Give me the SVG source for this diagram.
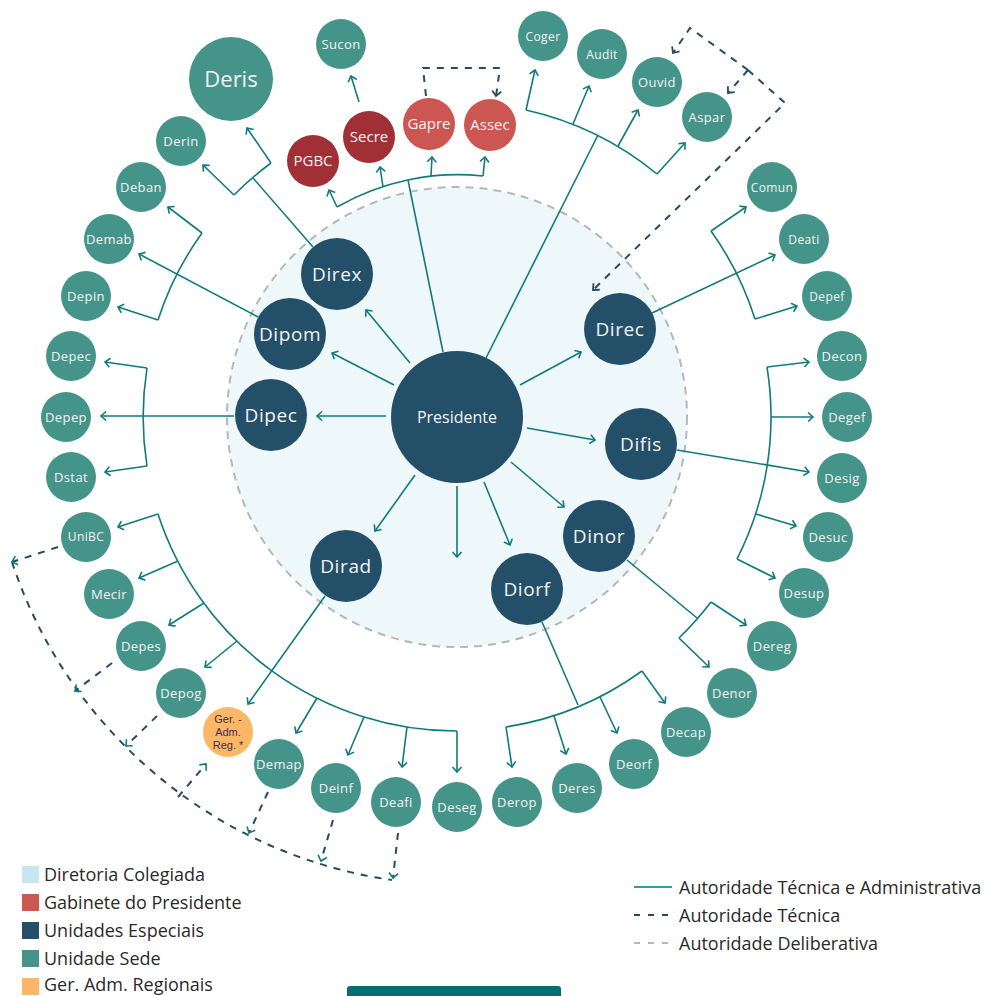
<svg xmlns="http://www.w3.org/2000/svg" width="987" height="996" viewBox="0 0 987 996">
<style>
.c{fill:none;stroke:#117a80;stroke-width:1.6}
.a{marker-end:url(#ah)}
.d{fill:none;stroke:#244c5e;stroke-width:2;stroke-dasharray:7 7}
.sede{fill:#459489}
.esp{fill:#234f69}
.gab{fill:#cc5651}
.gab2{fill:#a13036}
.reg{fill:#fbb765}
text{font-family:"Open Sans","Liberation Sans",sans-serif;text-anchor:middle;fill:#f4f4f4}
.s{font-size:13px;letter-spacing:0.4px}
.m{font-size:15px}
.l{font-size:19px;letter-spacing:0.6px}
.g{font-family:"Liberation Sans",Arial,sans-serif;font-size:11px;fill:#3b2d4f}
.lg{font-family:"Open Sans","Liberation Sans",sans-serif;font-size:18px;fill:#2a2a2a;text-anchor:start}
</style>
<defs>
<marker id="ah" viewBox="-7 -6 9 12" markerWidth="9" markerHeight="12" refX="0" refY="0" orient="auto" markerUnits="userSpaceOnUse"><path d="M-5,-4.5 L0,0 L-5,4.5" fill="none" stroke="#117a80" stroke-width="1.6"/></marker>
<marker id="ahd" viewBox="-7 -6 9 12" markerWidth="9" markerHeight="12" refX="0" refY="0" orient="auto" markerUnits="userSpaceOnUse"><path d="M-5,-4.5 L0,0 L-5,4.5" fill="none" stroke="#244c5e" stroke-width="1.8"/></marker>
</defs>
<rect width="987" height="996" fill="#ffffff"/>

<g id="diretoria-colegiada">
<circle cx="457" cy="417" r="230" fill="#eef7f9" stroke="#b4b8bb" stroke-width="2" stroke-dasharray="8 6"/>
</g>

<g id="connectors">
<!-- Presidente spokes -->
<path class="c a" d="M410,363 L366,310"/>
<path class="c a" d="M394,385 L332,353"/>
<path class="c a" d="M386,416 L317,416"/>
<path class="c a" d="M520,385 L581,352"/>
<path class="c a" d="M527,428 L595,440"/>
<path class="c a" d="M511,462 L564,507"/>
<path class="c a" d="M484,482 L510,545"/>
<path class="c a" d="M457,486 L457,557"/>
<path class="c a" d="M415,475 L375,531"/>
<path class="c" d="M443,352 L408,180"/>
<path class="c" d="M486,358 L598,135"/>
<!-- Gabinete arc -->
<path class="c" d="M337,207 A242,242 0 0,1 483,176"/>
<path class="c a" d="M337,207 L329,190"/>
<path class="c a" d="M383,187 L380,167"/>
<path class="c a" d="M431,176 L432,157"/>
<path class="c a" d="M483,176 L485,157"/>
<path class="c a" d="M359,102 L351,76"/>
<!-- Direx -->
<path class="c" d="M313,247 L253,178"/>
<path class="c" d="M234,195 A314,314 0 0,1 271,163"/>
<path class="c a" d="M234,195 L203,165"/>
<path class="c a" d="M271,163 L247,128"/>
<!-- Dipom -->
<path class="c a" d="M258,317 L139,254"/>
<path class="c" d="M202,233 A314,314 0 0,0 158,320"/>
<path class="c a" d="M202,233 L168,207"/>
<path class="c a" d="M158,320 L118,307"/>
<!-- Dipec -->
<path class="c a" d="M234,416 L101,416"/>
<path class="c" d="M147,368 A314,314 0 0,0 147,466"/>
<path class="c a" d="M147,368 L105,362"/>
<path class="c a" d="M147,466 L105,472"/>
<!-- Presidente top-right -->
<path class="c" d="M526,110 A315,315 0 0,1 657,174"/>
<path class="c a" d="M526,110 L535,70"/>
<path class="c a" d="M573,124 L589,86"/>
<path class="c a" d="M618,146 L638,110"/>
<path class="c a" d="M657,174 L685,143"/>
<!-- Direc -->
<path class="c a" d="M652,313 L775,255"/>
<path class="c" d="M711,231 A314,314 0 0,1 755,319"/>
<path class="c a" d="M711,231 L746,207"/>
<path class="c a" d="M755,319 L797,306"/>
<!-- Difis -->
<path class="c a" d="M677,450 L809,472"/>
<path class="c" d="M767,367 A314,314 0 0,1 737,559"/>
<path class="c a" d="M767,367 L809,362"/>
<path class="c a" d="M771,417 L813,417"/>
<path class="c a" d="M756,514 L796,526"/>
<path class="c a" d="M737,559 L775,578"/>
<!-- Dinor -->
<path class="c" d="M627,560 L697,618"/>
<path class="c" d="M711,602 A314,314 0 0,1 679,638"/>
<path class="c a" d="M711,602 L746,625"/>
<path class="c a" d="M679,638 L709,667"/>
<!-- Diorf -->
<path class="c" d="M542,622 L578,705"/>
<path class="c" d="M642,671 A314,314 0 0,1 506,727"/>
<path class="c a" d="M642,671 L665,703"/>
<path class="c a" d="M600,697 L617,733"/>
<path class="c a" d="M554,716 L566,754"/>
<path class="c a" d="M506,727 L512,767"/>
<!-- Bottom-left arc -->
<path class="c" d="M457,731 A314,314 0 0,1 158,514"/>
<path class="c a" d="M158,514 L118,527"/>
<path class="c a" d="M178,561 L139,578"/>
<path class="c a" d="M204,603 L169,625"/>
<path class="c a" d="M237,641 L205,667"/>
<path class="c a" d="M317,698 L296,733"/>
<path class="c a" d="M364,717 L348,755"/>
<path class="c a" d="M407,727 L402,767"/>
<path class="c a" d="M457,731 L457,772"/>
<!-- Dirad -->
<path class="c a" d="M325,596 L248,704"/>
<!-- Dashed technical authority -->
<path class="d" d="M748,70 L785,103 L593,290" marker-end="url(#ahd)"/>
<path class="d" d="M748,70 L690,28 L673,53" marker-end="url(#ahd)"/>
<path class="d" d="M748,70 L728,93" marker-end="url(#ahd)"/>
<path class="d" d="M426,96 L423,68 L500,68 L496,96" marker-end="url(#ahd)"/>
<path class="d" d="M12,562 A470,470 0 0,0 392,880"/>
<path class="d" d="M58,547 L12,562" marker-end="url(#ah)"/>
<path class="d" d="M112,663 L75,691" marker-end="url(#ah)"/>
<path class="d" d="M157,716 L126,746" marker-end="url(#ah)"/>
<path class="d" d="M178,797 L206,764" marker-end="url(#ah)"/>
<path class="d" d="M268,792 L249,833" marker-end="url(#ah)"/>
<path class="d" d="M333,820 L321,861" marker-end="url(#ah)"/>
<path class="d" d="M398,833 L393,878" marker-end="url(#ah)"/>
</g>

<!-- Central nodes -->
<g id="presidente"><circle class="esp" cx="457" cy="417" r="66"/><text x="457" y="423" style="font-size:16px">Presidente</text></g>
<g id="direx"><circle class="esp" cx="337" cy="274" r="36"/><text class="l" x="337" y="281">Direx</text></g>
<g id="dipom"><circle class="esp" cx="290" cy="334" r="36"/><text class="l" x="290" y="341">Dipom</text></g>
<g id="dipec"><circle class="esp" cx="271" cy="415" r="36"/><text class="l" x="271" y="422">Dipec</text></g>
<g id="direc"><circle class="esp" cx="620" cy="329" r="36"/><text class="l" x="620" y="336">Direc</text></g>
<g id="difis"><circle class="esp" cx="641" cy="444" r="36"/><text class="l" x="641" y="451">Difis</text></g>
<g id="dinor"><circle class="esp" cx="599" cy="536" r="36"/><text class="l" x="599" y="543">Dinor</text></g>
<g id="diorf"><circle class="esp" cx="527" cy="589" r="36"/><text class="l" x="527" y="596">Diorf</text></g>
<g id="dirad"><circle class="esp" cx="346" cy="566" r="36"/><text class="l" x="346" y="573">Dirad</text></g>

<!-- Gabinete -->
<g id="pgbc"><circle class="gab2" cx="313" cy="161" r="26"/><text class="m" x="313" y="166">PGBC</text></g>
<g id="secre"><circle class="gab2" cx="369" cy="137" r="26"/><text class="m" x="369" y="142">Secre</text></g>
<g id="gapre"><circle class="gab" cx="429" cy="124" r="26"/><text class="m" x="429" y="129">Gapre</text></g>
<g id="assec"><circle class="gab" cx="490" cy="125" r="26"/><text class="m" x="490" y="130">Assec</text></g>

<!-- Unidades sede -->
<g id="sucon"><circle class="sede" cx="341" cy="44" r="25"/><text class="s" x="341" y="49">Sucon</text></g>
<g id="deris"><circle class="sede" cx="231" cy="79" r="42"/><text x="231" y="87" style="font-size:22px">Deris</text></g>
<g id="derin"><circle class="sede" cx="181" cy="141" r="25"/><text class="s" x="181" y="146">Derin</text></g>
<g id="deban"><circle class="sede" cx="141" cy="187" r="25"/><text class="s" x="141" y="192">Deban</text></g>
<g id="demab"><circle class="sede" cx="109" cy="239" r="25"/><text class="s" x="109" y="244">Demab</text></g>
<g id="depin"><circle class="sede" cx="86" cy="296" r="25"/><text class="s" x="86" y="301">Depin</text></g>
<g id="depec"><circle class="sede" cx="71" cy="356" r="25"/><text class="s" x="71" y="361">Depec</text></g>
<g id="depep"><circle class="sede" cx="66" cy="417" r="25"/><text class="s" x="66" y="422">Depep</text></g>
<g id="dstat"><circle class="sede" cx="71" cy="477" r="25"/><text class="s" x="71" y="482">Dstat</text></g>
<g id="unibc"><circle class="sede" cx="86" cy="537" r="25"/><text class="s" x="86" y="541" style="font-size:12px">UniBC</text></g>
<g id="mecir"><circle class="sede" cx="109" cy="594" r="25"/><text class="s" x="109" y="599">Mecir</text></g>
<g id="depes"><circle class="sede" cx="141" cy="646" r="25"/><text class="s" x="141" y="651">Depes</text></g>
<g id="depog"><circle class="sede" cx="181" cy="693" r="25"/><text class="s" x="181" y="698">Depog</text></g>
<g id="ger-adm-reg"><circle class="reg" cx="228" cy="732" r="25"/>
<text class="g" x="228" y="723">Ger. -</text>
<text class="g" x="228" y="736">Adm.</text>
<text class="g" x="228" y="749">Reg. *</text></g>
<g id="demap"><circle class="sede" cx="279" cy="764" r="25"/><text class="s" x="279" y="769">Demap</text></g>
<g id="deinf"><circle class="sede" cx="336" cy="788" r="25"/><text class="s" x="336" y="793">Deinf</text></g>
<g id="deafi"><circle class="sede" cx="396" cy="802" r="25"/><text class="s" x="396" y="807">Deafi</text></g>
<g id="deseg"><circle class="sede" cx="457" cy="807" r="25"/><text class="s" x="457" y="812">Deseg</text></g>
<g id="derop"><circle class="sede" cx="517" cy="802" r="25"/><text class="s" x="517" y="807">Derop</text></g>
<g id="deres"><circle class="sede" cx="577" cy="788" r="25"/><text class="s" x="577" y="793">Deres</text></g>
<g id="deorf"><circle class="sede" cx="634" cy="764" r="25"/><text class="s" x="634" y="769">Deorf</text></g>
<g id="decap"><circle class="sede" cx="686" cy="732" r="25"/><text class="s" x="686" y="737">Decap</text></g>
<g id="denor"><circle class="sede" cx="732" cy="693" r="25"/><text class="s" x="732" y="698">Denor</text></g>
<g id="dereg"><circle class="sede" cx="772" cy="646" r="25"/><text class="s" x="772" y="651">Dereg</text></g>
<g id="desup"><circle class="sede" cx="804" cy="593" r="25"/><text class="s" x="804" y="598">Desup</text></g>
<g id="desuc"><circle class="sede" cx="828" cy="537" r="25"/><text class="s" x="828" y="542">Desuc</text></g>
<g id="desig"><circle class="sede" cx="842" cy="478" r="25"/><text class="s" x="842" y="483">Desig</text></g>
<g id="degef"><circle class="sede" cx="847" cy="417" r="25"/><text class="s" x="847" y="422">Degef</text></g>
<g id="decon"><circle class="sede" cx="842" cy="356" r="25"/><text class="s" x="842" y="361">Decon</text></g>
<g id="depef"><circle class="sede" cx="827" cy="296" r="25"/><text class="s" x="827" y="301" style="font-size:12px">Depef</text></g>
<g id="deati"><circle class="sede" cx="804" cy="239" r="25"/><text class="s" x="804" y="244" style="font-size:12px">Deati</text></g>
<g id="comun"><circle class="sede" cx="772" cy="187" r="25"/><text class="s" x="772" y="192" style="font-size:12px">Comun</text></g>
<g id="coger"><circle class="sede" cx="543" cy="36" r="25"/><text class="s" x="543" y="41" style="font-size:12px">Coger</text></g>
<g id="audit"><circle class="sede" cx="602" cy="54" r="25"/><text class="s" x="602" y="59" style="font-size:12px">Audit</text></g>
<g id="ouvid"><circle class="sede" cx="657" cy="82" r="25"/><text class="s" x="657" y="87">Ouvid</text></g>
<g id="aspar"><circle class="sede" cx="707" cy="117" r="25"/><text class="s" x="707" y="122">Aspar</text></g>

<!-- Legend -->
<g id="legend">
<rect x="22" y="866" width="17" height="17" fill="#c5e7ef"/><text class="lg" x="44" y="881">Diretoria Colegiada</text>
<rect x="22" y="894" width="17" height="17" fill="#cc5651"/><text class="lg" x="44" y="909">Gabinete do Presidente</text>
<rect x="22" y="922" width="17" height="17" fill="#234f69"/><text class="lg" x="44" y="937">Unidades Especiais</text>
<rect x="22" y="950" width="17" height="17" fill="#459489"/><text class="lg" x="44" y="965">Unidade Sede</text>
<rect x="22" y="978" width="17" height="17" fill="#fbb765"/><text class="lg" x="44" y="991">Ger. Adm. Regionais</text>
<line x1="634" y1="887" x2="672" y2="887" stroke="#3e9a96" stroke-width="2"/>
<text class="lg" x="679" y="894">Autoridade Técnica e Administrativa</text>
<line x1="634" y1="915" x2="672" y2="915" stroke="#244c5e" stroke-width="2" stroke-dasharray="6 8"/>
<text class="lg" x="679" y="922">Autoridade Técnica</text>
<line x1="634" y1="943" x2="672" y2="943" stroke="#b4b8bb" stroke-width="2" stroke-dasharray="6 8"/>
<text class="lg" x="679" y="950">Autoridade Deliberativa</text>
</g>
<rect x="347" y="986" width="214" height="16" rx="3" fill="#036f73"/>
</svg>
